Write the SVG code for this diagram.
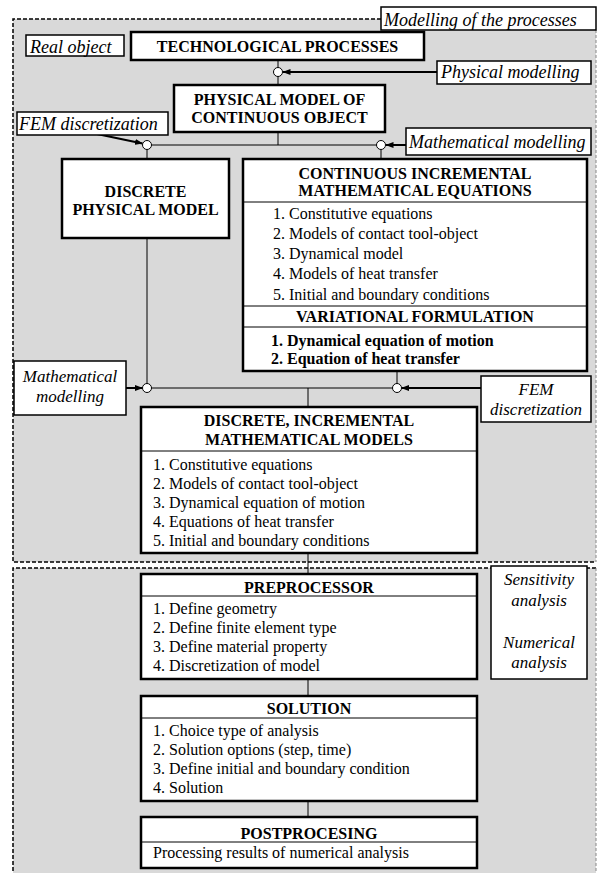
<svg xmlns="http://www.w3.org/2000/svg" width="598" height="873" viewBox="0 0 598 873">
<defs>
<style>
.reg{fill:#d9d9d9;stroke:none}
.dk{stroke:#000;stroke-width:1.5;stroke-dasharray:4 2;fill:none}
.lt{stroke:#888;stroke-width:1;stroke-dasharray:3 2;fill:none}
.node{fill:#fff;stroke:#000;stroke-width:2.5}
.lbl{fill:#fff;stroke:#000;stroke-width:1.5}
.div{stroke:#000;stroke-width:1;fill:none}
.conn{stroke:#000;stroke-width:1;fill:none}
.arr{stroke:#000;stroke-width:2;fill:none;marker-end:url(#ah)}
.jn{fill:#fff;stroke:#000;stroke-width:1}
text{font-family:"Liberation Serif","Times New Roman",serif;fill:#000}
.h{font-size:16px;font-weight:bold;text-anchor:middle}
.b{font-size:16px;font-weight:bold}
.t{font-size:16px}
.i{font-size:18px;font-style:italic}
.ic{font-size:17px;font-style:italic;text-anchor:middle}
</style>
<marker id="ah" markerWidth="8" markerHeight="6" refX="7.5" refY="3" orient="auto" markerUnits="userSpaceOnUse">
<path d="M0,0 L8,3 L0,6 Z" fill="#000"/>
</marker>
</defs>

<g id="regions">
<rect class="reg" x="13" y="19" width="583" height="543"/>
<path class="dk" d="M381,19 H13 V562 H596"/>
<path class="lt" d="M596,30 V562"/>
<rect class="reg" x="13" y="568" width="583" height="305"/>
<path class="dk" d="M596,568 H13 V873"/>
<path class="lt" d="M596,568 V873"/>
</g>

<g id="connectors">
<line class="conn" x1="278" y1="60" x2="278" y2="85"/>
<line class="conn" x1="278" y1="132" x2="278" y2="145"/>
<line class="conn" x1="147" y1="145" x2="381" y2="145"/>
<line class="conn" x1="147" y1="145" x2="147" y2="159"/>
<line class="conn" x1="381" y1="145" x2="381" y2="159"/>
<line class="conn" x1="147" y1="238" x2="147" y2="388"/>
<line class="conn" x1="147" y1="388" x2="397" y2="388"/>
<line class="conn" x1="397" y1="371" x2="397" y2="388"/>
<line class="conn" x1="308" y1="388" x2="308" y2="407"/>
<line class="conn" x1="308" y1="553" x2="308" y2="574"/>
<line class="conn" x1="308" y1="679" x2="308" y2="696"/>
<line class="conn" x1="308" y1="801" x2="308" y2="817"/>
<line class="arr" x1="437" y1="72" x2="283" y2="72"/>
<line class="arr" x1="97" y1="134" x2="142.5" y2="143.5"/>
<line class="arr" x1="406" y1="145" x2="386" y2="145"/>
<line class="arr" x1="126" y1="388" x2="142.5" y2="388"/>
<line class="arr" x1="481" y1="388" x2="401.5" y2="388"/>
<circle class="jn" cx="278" cy="72" r="4.5"/>
<circle class="jn" cx="147" cy="145" r="4.5"/>
<circle class="jn" cx="381" cy="145" r="4.5"/>
<circle class="jn" cx="147" cy="388" r="4.5"/>
<circle class="jn" cx="397" cy="388" r="4.5"/>
</g>

<g id="modelling-processes">
<rect class="lbl" x="381" y="7" width="215" height="23"/>
<text class="i" x="384" y="26">Modelling of the processes</text>
</g>

<g id="real-object">
<rect class="lbl" x="26" y="35" width="98" height="21"/>
<text class="i" x="30" y="53">Real object</text>
</g>

<g id="tech-processes">
<rect class="node" x="131" y="32" width="293" height="28"/>
<text class="h" x="277.5" y="52">TECHNOLOGICAL PROCESSES</text>
</g>

<g id="physical-modelling">
<rect class="lbl" x="437" y="61" width="154" height="23"/>
<text class="i" x="441" y="78">Physical modelling</text>
</g>

<g id="physical-model">
<rect class="node" x="174" y="85" width="211" height="47"/>
<text class="h" x="279.5" y="104.5">PHYSICAL MODEL OF</text>
<text class="h" x="279.5" y="122.5">CONTINUOUS OBJECT</text>
</g>

<g id="fem-discretization-top">
<rect class="lbl" x="17" y="112" width="151" height="23"/>
<text class="i" x="19" y="130">FEM discretization</text>
</g>

<g id="math-modelling-top">
<rect class="lbl" x="406" y="128" width="185" height="27"/>
<text class="i" x="409" y="147.5">Mathematical modelling</text>
</g>

<g id="discrete-physical-model">
<rect class="node" x="62" y="159" width="167" height="79"/>
<text class="h" x="145.5" y="196.5">DISCRETE</text>
<text class="h" x="145.5" y="214.5">PHYSICAL MODEL</text>
</g>

<g id="continuous-equations">
<rect class="node" x="243" y="159" width="344" height="212"/>
<text class="h" x="415" y="178.5">CONTINUOUS INCREMENTAL</text>
<text class="h" x="415" y="195.5">MATHEMATICAL EQUATIONS</text>
<line class="div" x1="243" y1="202" x2="587" y2="202"/>
<text class="t" x="273" y="219">1. Constitutive equations</text>
<text class="t" x="273" y="239">2. Models of contact tool-object</text>
<text class="t" x="273" y="259">3. Dynamical model</text>
<text class="t" x="273" y="279">4. Models of heat transfer</text>
<text class="t" x="273" y="299.5">5. Initial and boundary conditions</text>
<line class="div" x1="243" y1="306" x2="587" y2="306"/>
<text class="h" x="415" y="321.5">VARIATIONAL FORMULATION</text>
<line class="div" x1="243" y1="327" x2="587" y2="327"/>
<text class="b" x="271" y="345.5">1. Dynamical equation of motion</text>
<text class="b" x="271" y="363.5">2. Equation of heat transfer</text>
</g>

<g id="math-modelling-left">
<rect class="lbl" x="14" y="361" width="112" height="54"/>
<text class="ic" x="70" y="382">Mathematical</text>
<text class="ic" x="70" y="402">modelling</text>
</g>

<g id="fem-discretization-right">
<rect class="lbl" x="481" y="376" width="110" height="46"/>
<text class="ic" x="536" y="394.5">FEM</text>
<text class="ic" x="536" y="414.5">discretization</text>
</g>

<g id="discrete-models">
<rect class="node" x="141" y="407" width="336" height="146"/>
<text class="h" x="309" y="425.5">DISCRETE, INCREMENTAL</text>
<text class="h" x="309" y="444.5">MATHEMATICAL MODELS</text>
<line class="div" x1="141" y1="451" x2="477" y2="451"/>
<text class="t" x="153" y="469.5">1. Constitutive equations</text>
<text class="t" x="153" y="488.5">2. Models of contact tool-object</text>
<text class="t" x="153" y="507.5">3. Dynamical equation of motion</text>
<text class="t" x="153" y="526.5">4. Equations of heat transfer</text>
<text class="t" x="153" y="545.5">5. Initial and boundary conditions</text>
</g>

<g id="preprocessor">
<rect class="node" x="141" y="574" width="336" height="105"/>
<text class="h" x="309" y="593">PREPROCESSOR</text>
<line class="div" x1="141" y1="596" x2="477" y2="596"/>
<text class="t" x="153" y="613.5">1. Define geometry</text>
<text class="t" x="153" y="632.5">2. Define finite element type</text>
<text class="t" x="153" y="651.5">3. Define material property</text>
<text class="t" x="153" y="670.5">4. Discretization of model</text>
</g>

<g id="sensitivity">
<rect class="lbl" x="491" y="566" width="96" height="113"/>
<text class="ic" x="539" y="585">Sensitivity</text>
<text class="ic" x="539" y="606">analysis</text>
<text class="ic" x="539" y="648">Numerical</text>
<text class="ic" x="539" y="668">analysis</text>
</g>

<g id="solution">
<rect class="node" x="141" y="696" width="336" height="105"/>
<text class="h" x="309" y="714">SOLUTION</text>
<line class="div" x1="141" y1="718" x2="477" y2="718"/>
<text class="t" x="153" y="735.5">1. Choice type of analysis</text>
<text class="t" x="153" y="754.5">2. Solution options (step, time)</text>
<text class="t" x="153" y="773.5">3. Define initial and boundary condition</text>
<text class="t" x="153" y="792.5">4. Solution</text>
</g>

<g id="postprocessing">
<rect class="node" x="141" y="817" width="336" height="51"/>
<text class="h" x="309" y="838.5">POSTPROCESING</text>
<line class="div" x1="141" y1="842" x2="477" y2="842"/>
<text class="t" x="153" y="857.5">Processing results of numerical analysis</text>
</g>
</svg>
